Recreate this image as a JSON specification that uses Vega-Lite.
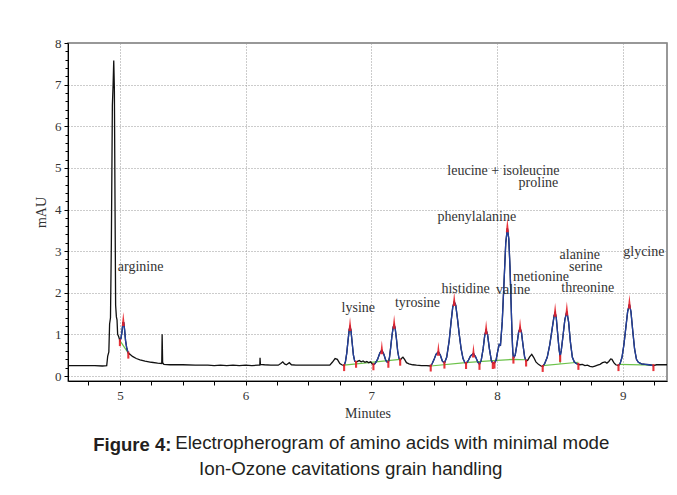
{
  "$schema": "https://vega.github.io/schema/vega-lite/v6.json",
  "width": 599,
  "height": 338,
  "autosize": {"type": "none"},
  "padding": {"left": 68, "top": 43, "right": 10, "bottom": 114},
  "background": "white",
  "config": {"view": {"stroke": "#777", "strokeWidth": 1.5}, "font": "Liberation Serif"},
  "title": {
    "text": "Figure 4:\u00a0\u00a0\u00a0\u00a0\u00a0\u00a0\u00a0\u00a0\u00a0\u00a0\u00a0\u00a0\u00a0\u00a0\u00a0\u00a0\u00a0\u00a0\u00a0\u00a0\u00a0\u00a0\u00a0\u00a0\u00a0\u00a0\u00a0\u00a0\u00a0\u00a0\u00a0\u00a0\u00a0\u00a0\u00a0\u00a0\u00a0\u00a0\u00a0\u00a0\u00a0\u00a0\u00a0\u00a0\u00a0\u00a0\u00a0\u00a0\u00a0\u00a0\u00a0\u00a0\u00a0\u00a0\u00a0\u00a0\u00a0\u00a0\u00a0\u00a0\u00a0\u00a0\u00a0\u00a0\u00a0\u00a0\u00a0\u00a0\u00a0\u00a0\u00a0\u00a0\u00a0\u00a0\u00a0\u00a0\u00a0\u00a0\u00a0\u00a0\u00a0\u00a0\u00a0\u00a0\u00a0\u200b",
    "subtitle": ["\u200b\u00a0\u00a0\u00a0\u00a0\u00a0\u00a0\u00a0\u00a0\u00a0\u00a0\u00a0\u00a0\u00a0\u00a0\u00a0\u00a0Electropherogram of amino acids with minimal mode", "Ion-Ozone cavitations grain handling"],
    "orient": "bottom",
    "anchor": "middle",
    "frame": "bounds",
    "offset": 16,
    "font": "Liberation Sans",
    "fontSize": 18.5,
    "fontWeight": "bold",
    "color": "#231f20",
    "subtitleFont": "Liberation Sans",
    "subtitleFontSize": 18.7,
    "subtitleFontWeight": "normal",
    "subtitleColor": "#231f20",
    "subtitlePadding": -21,
    "subtitleLineHeight": 26
  },
  "datasets": {
    "trace": [
      {"t":4.59,"v":0.25},{"t":4.65,"v":0.25},{"t":4.72,"v":0.25},{"t":4.80,"v":0.25},{"t":4.86,"v":0.24},
      {"t":4.895,"v":0.25},{"t":4.903,"v":0.48},{"t":4.912,"v":0.58},{"t":4.918,"v":1.25},{"t":4.925,"v":1.4},
      {"t":4.932,"v":3.2},{"t":4.94,"v":6.5},{"t":4.946,"v":7.0},{"t":4.951,"v":7.58},{"t":4.956,"v":6.9},
      {"t":4.961,"v":4.2},{"t":4.966,"v":1.7},{"t":4.972,"v":1.42},{"t":4.977,"v":1.35},{"t":4.982,"v":1.0},
      {"t":4.99,"v":0.95},
      {"t":5.000,"v":0.85,"s":"A"},{"t":5.008,"v":0.9,"s":"A"},{"t":5.016,"v":1.05,"s":"A"},{"t":5.024,"v":1.28,"s":"A"},
      {"t":5.030,"v":1.28,"s":"A"},{"t":5.037,"v":1.12,"s":"A"},{"t":5.045,"v":0.85,"s":"A"},{"t":5.055,"v":0.66,"s":"A"},
      {"t":5.067,"v":0.55,"s":"A"},
      {"t":5.08,"v":0.52},{"t":5.10,"v":0.47},{"t":5.13,"v":0.42},{"t":5.16,"v":0.39},{"t":5.20,"v":0.36},
      {"t":5.25,"v":0.33},{"t":5.30,"v":0.31},{"t":5.333,"v":0.3},{"t":5.336,"v":1.0},{"t":5.340,"v":0.32},
      {"t":5.35,"v":0.28},{"t":5.40,"v":0.27},{"t":5.50,"v":0.27},{"t":5.60,"v":0.26},{"t":5.70,"v":0.26},
      {"t":5.75,"v":0.25},{"t":5.80,"v":0.26},{"t":5.85,"v":0.25},{"t":5.90,"v":0.26},{"t":5.95,"v":0.25},
      {"t":6.00,"v":0.26},{"t":6.05,"v":0.25},{"t":6.10,"v":0.26},{"t":6.113,"v":0.26},{"t":6.115,"v":0.44},
      {"t":6.118,"v":0.28},{"t":6.15,"v":0.27},{"t":6.20,"v":0.26},{"t":6.26,"v":0.26},{"t":6.28,"v":0.30},
      {"t":6.296,"v":0.34},{"t":6.31,"v":0.29},{"t":6.325,"v":0.27},{"t":6.348,"v":0.32},{"t":6.365,"v":0.27},
      {"t":6.40,"v":0.26},{"t":6.50,"v":0.26},{"t":6.60,"v":0.26},{"t":6.67,"v":0.26},{"t":6.69,"v":0.33},
      {"t":6.712,"v":0.42},{"t":6.73,"v":0.40},{"t":6.75,"v":0.30},{"t":6.765,"v":0.27},
      {"t":6.784,"v":0.25,"s":"L"},{"t":6.795,"v":0.35,"s":"L"},{"t":6.805,"v":0.55,"s":"L"},{"t":6.815,"v":0.85,"s":"L"},
      {"t":6.825,"v":1.12,"s":"L"},{"t":6.831,"v":1.18,"s":"L"},{"t":6.838,"v":1.10,"s":"L"},{"t":6.848,"v":0.80,"s":"L"},
      {"t":6.858,"v":0.50,"s":"L"},{"t":6.868,"v":0.36,"s":"L"},{"t":6.879,"v":0.33,"s":"L"},
      {"t":6.89,"v":0.35},{"t":6.905,"v":0.37},{"t":6.92,"v":0.34},{"t":6.935,"v":0.36},{"t":6.95,"v":0.33},
      {"t":6.965,"v":0.35},{"t":6.98,"v":0.32},{"t":6.995,"v":0.34},{"t":7.005,"v":0.30},
      {"t":7.017,"v":0.27,"s":"S"},{"t":7.03,"v":0.30,"s":"S"},{"t":7.05,"v":0.40,"s":"S"},{"t":7.068,"v":0.55,"s":"S"},
      {"t":7.084,"v":0.62,"s":"S"},{"t":7.10,"v":0.52,"s":"S"},{"t":7.115,"v":0.38,"s":"S"},{"t":7.125,"v":0.34,"s":"S"},
      {"t":7.136,"v":0.33,"s":"S"},{"t":7.145,"v":0.45,"s":"S"},{"t":7.155,"v":0.70,"s":"S"},{"t":7.165,"v":0.98,"s":"S"},
      {"t":7.175,"v":1.18,"s":"S"},{"t":7.182,"v":1.23,"s":"S"},{"t":7.19,"v":1.15,"s":"S"},{"t":7.20,"v":0.90,"s":"S"},
      {"t":7.21,"v":0.60,"s":"S"},{"t":7.22,"v":0.43,"s":"S"},{"t":7.23,"v":0.38,"s":"S"},
      {"t":7.24,"v":0.42},{"t":7.252,"v":0.45},{"t":7.265,"v":0.40},{"t":7.28,"v":0.32},{"t":7.30,"v":0.29},
      {"t":7.33,"v":0.27},{"t":7.36,"v":0.26},{"t":7.40,"v":0.25},{"t":7.44,"v":0.25},
      {"t":7.473,"v":0.24,"s":"H"},{"t":7.485,"v":0.30,"s":"H"},{"t":7.50,"v":0.40,"s":"H"},{"t":7.515,"v":0.52,"s":"H"},
      {"t":7.534,"v":0.58,"s":"H"},{"t":7.55,"v":0.50,"s":"H"},{"t":7.565,"v":0.36,"s":"H"},{"t":7.582,"v":0.31,"s":"H"},
      {"t":7.60,"v":0.45,"s":"H"},{"t":7.62,"v":0.85,"s":"H"},{"t":7.635,"v":1.30,"s":"H"},{"t":7.648,"v":1.65,"s":"H"},
      {"t":7.66,"v":1.78,"s":"H"},{"t":7.672,"v":1.70,"s":"H"},{"t":7.685,"v":1.40,"s":"H"},{"t":7.70,"v":1.00,"s":"H"},
      {"t":7.715,"v":0.65,"s":"H"},{"t":7.73,"v":0.42,"s":"H"},{"t":7.745,"v":0.32,"s":"H"},{"t":7.754,"v":0.30,"s":"H"},
      {"t":7.77,"v":0.36,"s":"H"},{"t":7.79,"v":0.48,"s":"H"},{"t":7.813,"v":0.54,"s":"H"},{"t":7.83,"v":0.46,"s":"H"},
      {"t":7.848,"v":0.33,"s":"H"},{"t":7.861,"v":0.28,"s":"H"},{"t":7.875,"v":0.38,"s":"H"},{"t":7.89,"v":0.65,"s":"H"},
      {"t":7.903,"v":0.98,"s":"H"},{"t":7.914,"v":1.10,"s":"H"},{"t":7.925,"v":1.00,"s":"H"},{"t":7.94,"v":0.65,"s":"H"},
      {"t":7.955,"v":0.38,"s":"H"},{"t":7.967,"v":0.30,"s":"H"},{"t":7.98,"v":0.31,"s":"H"},{"t":7.993,"v":0.38,"s":"H"},
      {"t":8.005,"v":0.58,"s":"H"},{"t":8.018,"v":0.76,"s":"H"},{"t":8.028,"v":0.74,"s":"H"},{"t":8.042,"v":1.30,"s":"H"},
      {"t":8.057,"v":2.30,"s":"H"},{"t":8.07,"v":3.20,"s":"H"},{"t":8.083,"v":3.55,"s":"H"},{"t":8.094,"v":3.30,"s":"H"},
      {"t":8.104,"v":2.60,"s":"H"},{"t":8.113,"v":1.70,"s":"H"},{"t":8.12,"v":1.00,"s":"H"},{"t":8.126,"v":0.58,"s":"H"},
      {"t":8.131,"v":0.43,"s":"H"},{"t":8.145,"v":0.50,"s":"H"},{"t":8.16,"v":0.78,"s":"H"},{"t":8.172,"v":1.05,"s":"H"},
      {"t":8.184,"v":1.15,"s":"H"},{"t":8.195,"v":1.05,"s":"H"},{"t":8.207,"v":0.75,"s":"H"},{"t":8.22,"v":0.46,"s":"H"},
      {"t":8.232,"v":0.36,"s":"H"},
      {"t":8.245,"v":0.38},{"t":8.26,"v":0.46},{"t":8.277,"v":0.52},{"t":8.292,"v":0.45},{"t":8.31,"v":0.34},
      {"t":8.33,"v":0.28},{"t":8.35,"v":0.24},
      {"t":8.364,"v":0.23,"s":"N"},{"t":8.38,"v":0.30,"s":"N"},{"t":8.40,"v":0.45,"s":"N"},{"t":8.42,"v":0.75,"s":"N"},
      {"t":8.44,"v":1.15,"s":"N"},{"t":8.455,"v":1.45,"s":"N"},{"t":8.463,"v":1.52,"s":"N"},{"t":8.472,"v":1.40,"s":"N"},
      {"t":8.485,"v":0.95,"s":"N"},{"t":8.495,"v":0.62,"s":"N"},{"t":8.503,"v":0.47,"s":"N"},{"t":8.512,"v":0.62,"s":"N"},
      {"t":8.525,"v":0.95,"s":"N"},{"t":8.54,"v":1.35,"s":"N"},{"t":8.556,"v":1.55,"s":"N"},{"t":8.57,"v":1.30,"s":"N"},
      {"t":8.585,"v":0.80,"s":"N"},{"t":8.60,"v":0.45,"s":"N"},{"t":8.615,"v":0.34,"s":"N"},{"t":8.63,"v":0.30,"s":"N"},
      {"t":8.648,"v":0.28,"s":"N"},
      {"t":8.66,"v":0.27},{"t":8.68,"v":0.28},{"t":8.70,"v":0.25},{"t":8.72,"v":0.26},{"t":8.74,"v":0.23},
      {"t":8.76,"v":0.22},{"t":8.78,"v":0.24},{"t":8.80,"v":0.26},{"t":8.82,"v":0.28},{"t":8.84,"v":0.32},
      {"t":8.86,"v":0.34},{"t":8.875,"v":0.31},{"t":8.89,"v":0.35},{"t":8.905,"v":0.41},{"t":8.915,"v":0.40},
      {"t":8.93,"v":0.32},{"t":8.945,"v":0.27},
      {"t":8.967,"v":0.25,"s":"G"},{"t":8.98,"v":0.30,"s":"G"},{"t":8.995,"v":0.45,"s":"G"},{"t":9.01,"v":0.75,"s":"G"},
      {"t":9.025,"v":1.15,"s":"G"},{"t":9.04,"v":1.55,"s":"G"},{"t":9.054,"v":1.72,"s":"G"},{"t":9.066,"v":1.55,"s":"G"},
      {"t":9.08,"v":1.10,"s":"G"},{"t":9.095,"v":0.65,"s":"G"},{"t":9.11,"v":0.40,"s":"G"},{"t":9.125,"v":0.33,"s":"G"},
      {"t":9.15,"v":0.29,"s":"G"},{"t":9.18,"v":0.28,"s":"G"},{"t":9.21,"v":0.27,"s":"G"},{"t":9.245,"v":0.25,"s":"G"},
      {"t":9.27,"v":0.27},{"t":9.30,"v":0.27},{"t":9.353,"v":0.27}
    ],
    "baseline": [
      {"g":"A","t":5.0,"v":0.85},{"g":"A","t":5.067,"v":0.55},
      {"g":"L","t":6.784,"v":0.26},{"g":"L","t":7.23,"v":0.40},
      {"g":"H","t":7.473,"v":0.24},{"g":"H","t":7.75,"v":0.32},{"g":"H","t":7.97,"v":0.37},{"g":"H","t":8.13,"v":0.40},{"g":"H","t":8.232,"v":0.39},
      {"g":"N","t":8.364,"v":0.25},{"g":"N","t":8.648,"v":0.33},
      {"g":"G","t":8.967,"v":0.28},{"g":"G","t":9.245,"v":0.26}
    ],
    "drops": [
      {"t":8.503,"v":0.30,"v2":0.47},{"t":8.131,"v":0.40,"v2":0.45}
    ],
    "apex": [
      {"t":5.027,"v":1.3},{"t":6.831,"v":1.18},{"t":7.084,"v":0.62},{"t":7.182,"v":1.23},{"t":7.534,"v":0.58},
      {"t":7.66,"v":1.78},{"t":7.813,"v":0.54},{"t":7.914,"v":1.10},{"t":8.083,"v":3.55},{"t":8.184,"v":1.15},
      {"t":8.463,"v":1.52},{"t":8.556,"v":1.55},{"t":9.054,"v":1.72}
    ],
    "edges": [
      {"t":5.0,"v":0.85},{"t":5.067,"v":0.55},{"t":6.784,"v":0.25},{"t":6.879,"v":0.33},{"t":7.017,"v":0.27},
      {"t":7.136,"v":0.33},{"t":7.23,"v":0.38},{"t":7.473,"v":0.24},{"t":7.582,"v":0.31},{"t":7.754,"v":0.30},
      {"t":7.861,"v":0.28},{"t":7.967,"v":0.30},{"t":7.98,"v":0.31},{"t":8.131,"v":0.43},{"t":8.232,"v":0.36},
      {"t":8.364,"v":0.23},{"t":8.503,"v":0.47},{"t":8.648,"v":0.28},{"t":8.967,"v":0.25},{"t":9.245,"v":0.25}
    ],
    "labels": [
      {"label":"arginine","t":5.165,"v":2.63},
      {"label":"lysine","t":6.897,"v":1.64},
      {"label":"tyrosine","t":7.368,"v":1.76},
      {"label":"histidine","t":7.75,"v":2.10},
      {"label":"valine","t":8.128,"v":2.07},
      {"label":"metionine","t":8.351,"v":2.39},
      {"label":"threonine","t":8.722,"v":2.11},
      {"label":"serine","t":8.706,"v":2.63},
      {"label":"alanine","t":8.659,"v":2.91},
      {"label":"glycine","t":9.169,"v":2.99},
      {"label":"phenylalanine","t":7.84,"v":3.83},
      {"label":"leucine + isoleucine","t":8.051,"v":4.93},
      {"label":"proline","t":8.33,"v":4.63}
    ]
  },
  "encoding": {
    "x": {
      "field": "t", "type": "quantitative",
      "scale": {"domain": [4.587, 9.353], "nice": false, "zero": false},
      "axis": {
        "values": [4.75, 5, 5.25, 5.5, 5.75, 6, 6.25, 6.5, 6.75, 7, 7.25, 7.5, 7.75, 8, 8.25, 8.5, 8.75, 9, 9.25],
        "tickCount": 500,
        "labelExpr": "datum.value % 1 == 0 ? format(datum.value, 'd') : ''",
        "tickSize": 4,
        "tickColor": "#000",
        "domainColor": "#000",
        "grid": true,
        "gridOpacity": {"condition": {"test": "datum.value % 1 == 0", "value": 1}, "value": 0},
        "gridDash": [1, 2],
        "gridColor": "#999",
        "labelFont": "Liberation Serif",
        "labelFontSize": 13,
        "labelColor": "#333",
        "labelPadding": 4,
        "labelOverlap": false,
        "labelFlush": false,
        "title": "Minutes",
        "titleFont": "Liberation Serif",
        "titleFontSize": 14,
        "titleFontWeight": "normal",
        "titleColor": "#333",
        "titlePadding": 4
      }
    },
    "y": {
      "field": "v", "type": "quantitative",
      "scale": {"domain": [-0.12, 8], "nice": false, "zero": false},
      "axis": {
        "values": [0, 0.2, 0.4, 0.6, 0.8, 1, 1.2, 1.4, 1.6, 1.8, 2, 2.2, 2.4, 2.6, 2.8, 3, 3.2, 3.4, 3.6, 3.8, 4, 4.2, 4.4, 4.6, 4.8, 5, 5.2, 5.4, 5.6, 5.8, 6, 6.2, 6.4, 6.6, 6.8, 7, 7.2, 7.4, 7.6, 7.8, 8],
        "tickCount": 500,
        "labelExpr": "datum.value % 1 == 0 ? format(datum.value, 'd') : ''",
        "tickSize": {"condition": {"test": "datum.value % 1 == 0", "value": 4}, "value": 3},
        "tickColor": "#000",
        "domainColor": "#000",
        "grid": true,
        "gridOpacity": {"condition": {"test": "datum.value % 1 == 0", "value": 1}, "value": 0},
        "gridDash": [1, 2],
        "gridColor": "#999",
        "labelFont": "Liberation Serif",
        "labelFontSize": 13,
        "labelColor": "#333",
        "labelPadding": 3,
        "labelOverlap": false,
        "labelFlush": false,
        "title": "mAU",
        "titleFont": "Liberation Serif",
        "titleFontSize": 14,
        "titleFontWeight": "normal",
        "titleColor": "#333",
        "titlePadding": 6
      }
    }
  },
  "layer": [
    {
      "data": {"name": "baseline"},
      "mark": {"type": "line", "color": "#6cc24a", "strokeWidth": 1.2, "clip": true},
      "encoding": {"detail": {"field": "g", "type": "nominal"}}
    },
    {
      "data": {"name": "trace"},
      "mark": {"type": "line", "color": "#111111", "strokeWidth": 1.3, "clip": true},
      "encoding": {}
    },
    {
      "data": {"name": "trace"},
      "transform": [{"filter": "datum.s"}],
      "mark": {"type": "line", "color": "#2340a0", "strokeWidth": 1.3, "clip": true},
      "encoding": {"detail": {"field": "s", "type": "nominal"}}
    },
    {
      "data": {"name": "drops"},
      "mark": {"type": "rule", "color": "#6cc24a", "strokeWidth": 1.2},
      "encoding": {"y2": {"field": "v2"}}
    },
    {
      "data": {"name": "apex"},
      "mark": {"type": "point", "shape": "M-0.22,1L0,-1L0.22,1Z", "filled": true, "color": "#e41e26", "size": 196, "yOffset": -3, "opacity": 0.9},
      "encoding": {}
    },
    {
      "data": {"name": "edges"},
      "mark": {"type": "point", "shape": "M-0.3,-1H0.3V1H-0.3Z", "filled": true, "color": "#e41e26", "size": 49, "yOffset": 2, "opacity": 0.9},
      "encoding": {}
    },
    {
      "data": {"name": "labels"},
      "mark": {"type": "text", "font": "Liberation Serif", "fontSize": 14, "color": "#333", "align": "center", "baseline": "middle"},
      "encoding": {"text": {"field": "label", "type": "nominal"}}
    }
  ]
}
